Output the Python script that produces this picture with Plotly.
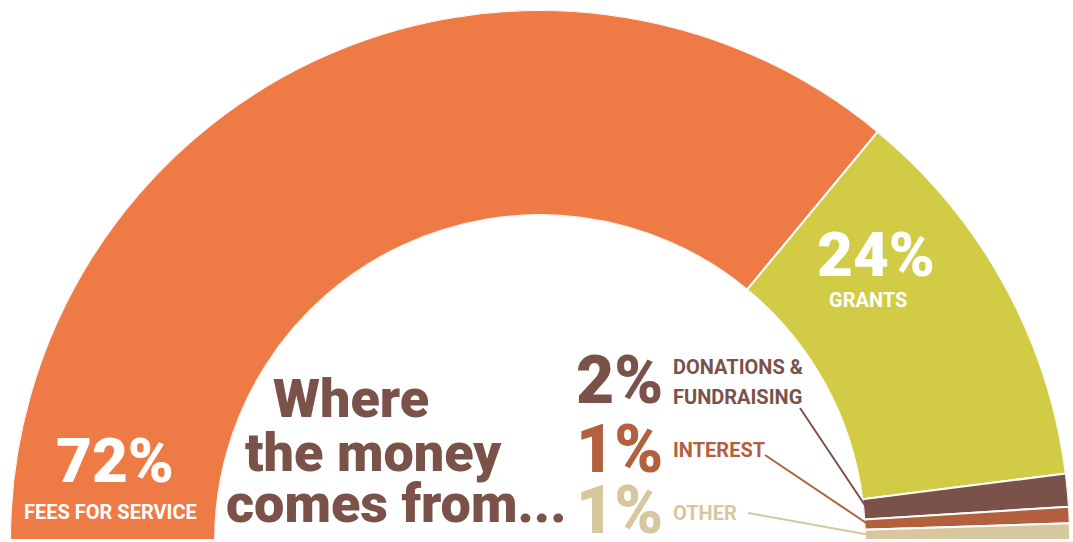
import numpy as np
import plotly.graph_objects as go

# Revenue sources (percent of total)
categories = ["FEES FOR SERVICE", "GRANTS", "DONATIONS & FUNDRAISING", "INTEREST", "OTHER"]
shares = [72, 24, 2, 1, 1]
pct_labels = ["72%", "24%", "2%", "1%", "1%"]
colors = ["#EE7B45", "#D2CB45", "#7A5249", "#B3603F", "#D6C79E"]
title_lines = ["Where", "the money", "comes from..."]

W, H = 1073, 542
FONT = "Roboto, Liberation Sans, sans-serif"
TITLE_COLOR = "#7A5249"

# half-donut geometry (pixels)
CX, CY, R_OUT = 540, 540, 530
HOLE = 0.613

# each share spans share * 1.8 degrees of the half circle
widths = np.array(shares) * 1.8
centers = np.cumsum(widths) - widths / 2

fig = go.Figure()
fig.add_trace(go.Barpolar(
    r=[1] * len(shares),
    theta=centers,
    width=widths,
    marker=dict(color=colors, line=dict(color="white", width=2)),
    text=categories,
    hoverinfo="text",
    showlegend=False,
))

fig.update_layout(
    width=W, height=H,
    margin=dict(l=0, r=0, t=0, b=0),
    paper_bgcolor="white",
    plot_bgcolor="white",
    polar=dict(
        domain=dict(x=[(CX - R_OUT) / W, (CX + R_OUT) / W],
                    y=[1 - CY / H, 1 - (CY - R_OUT) / H]),
        sector=[0, 180],
        hole=HOLE,
        bargap=0,
        bgcolor="white",
        radialaxis=dict(range=[0, 1], visible=False),
        angularaxis=dict(rotation=180, direction="clockwise", visible=False,
                         showgrid=False, showline=False, ticks=""),
    ),
)


def px(x, y):
    return x / W, 1 - y / H


def note(x, y, text, size, color, anchor="center", weight=900):
    ax, ay = px(x, y)
    fig.add_annotation(x=ax, y=ay, xref="paper", yref="paper", text=text,
                       showarrow=False, xanchor=anchor, yanchor="middle",
                       font=dict(family=FONT, size=size, color=color,
                                 weight=weight))


# labels inside the two large slices
note(115, 460, pct_labels[0], 62, "white")
note(110, 512, categories[0], 20, "white", weight=700)
note(876, 255, pct_labels[1], 62, "white")
note(868, 300, categories[1], 20, "white", weight=700)

# title in the hole, each line stepped along the inner arc
note(271, 398, title_lines[0], 54, TITLE_COLOR, "left")
note(243, 452, title_lines[1], 54, TITLE_COLOR, "left")
note(224, 503, title_lines[2], 54, TITLE_COLOR, "left")

# small slices: percentage, name and a leader line into the slice
small = [
    dict(i=2, y=380, names=["DONATIONS &", "FUNDRAISING"], ny=[367, 397], ls=(800, 408)),
    dict(i=3, y=449, names=["INTEREST"], ny=[450], ls=(765, 455)),
    dict(i=4, y=510, names=["OTHER"], ny=[513], ls=(748, 513)),
]
for s in small:
    i = s["i"]
    note(574, s["y"], pct_labels[i], 66, colors[i], "left")
    for name, ny in zip(s["names"], s["ny"]):
        note(671, ny, name, 20, colors[i], "left", weight=700)
    ang = np.radians(180 - centers[i])
    r_end = R_OUT * HOLE + 4
    ex, ey = CX + r_end * np.cos(ang), CY - r_end * np.sin(ang)
    x0, y0 = px(*s["ls"])
    x1, y1 = px(ex, ey)
    fig.add_shape(type="line", xref="paper", yref="paper",
                  x0=x0, y0=y0, x1=x1, y1=y1,
                  line=dict(color=colors[i], width=2))

fig.write_html("out.html")
